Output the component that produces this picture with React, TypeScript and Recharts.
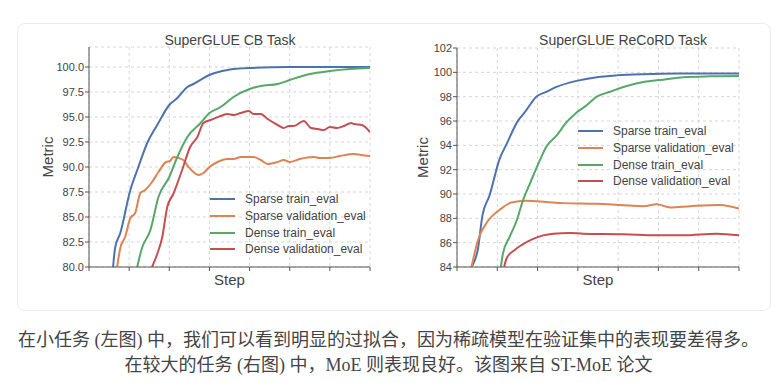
import React from 'react';
import { LineChart, Line, XAxis, YAxis, CartesianGrid, Legend, Label } from 'recharts';

// ---------- data: [step, metric] pairs ----------
const cbSparseTrain = [
  [0.6, 80], [0.65, 81.9], [0.78, 83.4], [1.03, 87.7], [1.23, 90], [1.45, 92.4], [1.7, 94.2],
  [2.0, 96.2], [2.2, 96.9], [2.45, 98], [2.6, 98.3], [3.0, 99.2], [3.45, 99.7], [4.0, 99.9],
  [5.0, 100], [6.0, 100], [7.0, 100],
];
const cbSparseVal = [
  [0.7, 80], [0.78, 81.9], [0.9, 83], [1.03, 84.9], [1.15, 85.4], [1.28, 87.4], [1.4, 87.7],
  [1.57, 88.5], [1.73, 89.5], [1.92, 90.5], [2.02, 90.6], [2.1, 91], [2.35, 90.7], [2.48, 90],
  [2.73, 89.2], [2.85, 89.4], [3.0, 90], [3.2, 90.5], [3.45, 90.8], [3.6, 90.8], [3.78, 91],
  [4.1, 91], [4.28, 90.7], [4.45, 90.3], [4.7, 90.5], [4.85, 90.7], [5.0, 90.5], [5.25, 90.8],
  [5.6, 91], [5.75, 90.9], [6.0, 90.9], [6.25, 91.1], [6.6, 91.3], [6.78, 91.2], [7.0, 91.1],
];
const cbDenseTrain = [
  [1.2, 80], [1.32, 81.9], [1.53, 83.7], [1.73, 87], [2.0, 89], [2.2, 91], [2.45, 93],
  [2.78, 94.4], [3.0, 95.4], [3.28, 96], [3.6, 97], [4.0, 97.8], [4.28, 98.1], [4.7, 98.3],
  [5.0, 98.7], [5.5, 99.3], [6.0, 99.6], [6.5, 99.8], [7.0, 99.9],
];
const cbDenseVal = [
  [1.57, 80], [1.7, 81.3], [1.82, 82.9], [1.95, 86], [2.1, 87.3], [2.32, 89.7], [2.52, 92],
  [2.7, 93], [2.85, 94.4], [3.03, 94.7], [3.28, 95.1], [3.45, 95.3], [3.6, 95.2], [3.78, 95.4],
  [3.98, 95.6], [4.1, 95.3], [4.28, 95.3], [4.45, 94.8], [4.7, 94.2], [4.85, 93.9], [4.98, 94.1],
  [5.1, 94.1], [5.35, 94.6], [5.53, 93.9], [5.7, 93.8], [5.85, 93.7], [6.0, 94.0], [6.18, 93.9],
  [6.35, 94.1], [6.53, 94.4], [6.6, 94.3], [6.8, 94.2], [7.0, 93.5],
];

const rcSparseTrain = [
  [0.36, 84], [0.52, 85.5], [0.63, 88.2], [0.81, 89.9], [1.06, 92.9], [1.23, 94.1], [1.52, 96.05],
  [1.68, 96.7], [1.97, 98], [2.22, 98.4], [2.47, 98.8], [2.97, 99.3], [3.47, 99.6], [3.96, 99.75],
  [4.63, 99.85], [5.5, 99.9], [7.0, 99.9],
];
const rcSparseVal = [
  [0.36, 84], [0.52, 86.2], [0.77, 87.8], [1.06, 88.7], [1.35, 89.3], [1.72, 89.45], [2.22, 89.35],
  [2.64, 89.25], [3.47, 89.2], [4.13, 89.07], [4.63, 89.0], [4.96, 89.15], [5.29, 88.9],
  [5.79, 89.0], [6.53, 89.1], [7.0, 88.8],
];
const rcDenseTrain = [
  [1.09, 84], [1.14, 85.1], [1.31, 86.5], [1.48, 87.8], [1.64, 89.5], [1.81, 90.85], [2.06, 92.8],
  [2.22, 93.9], [2.47, 94.8], [2.72, 95.9], [2.97, 96.7], [3.22, 97.3], [3.47, 98], [3.8, 98.4],
  [4.13, 98.8], [4.63, 99.2], [5.12, 99.4], [5.62, 99.6], [6.29, 99.67], [7.0, 99.7],
];
const rcDenseVal = [
  [1.17, 84], [1.23, 84.7], [1.43, 85.4], [1.6, 85.8], [1.85, 86.25], [2.14, 86.6], [2.39, 86.74],
  [2.8, 86.8], [3.13, 86.74], [4.13, 86.7], [4.96, 86.6], [5.62, 86.6], [6.45, 86.74], [7.0, 86.6],
];

const seriesNames = ['Sparse train_eval', 'Sparse validation_eval', 'Dense train_eval', 'Dense validation_eval'];
const seriesColors = ['#4C72B0', '#DD8452', '#55A868', '#C44E52'];
const stepTicks = [0, 1, 2, 3, 4, 5, 6, 7];
const cbTicks = [80, 82.5, 85, 87.5, 90, 92.5, 95, 97.5, 100];
const rcTicks = [84, 86, 88, 90, 92, 94, 96, 98, 100, 102];
const cbTitle = 'SuperGLUE CB Task';
const rcTitle = 'SuperGLUE ReCoRD Task';
const caption1 = '在小任务 (左图) 中，我们可以看到明显的过拟合，因为稀疏模型在验证集中的表现要差得多。';
const caption2 = '在较大的任务 (右图) 中，MoE 则表现良好。该图来自 ST-MoE 论文';

const toPts = (arr: number[][]) => arr.map(([x, y]) => ({ x, y }));

const FONT = "'Liberation Sans', Arial, Helvetica, sans-serif";
const AXIS = '#555';

const LegendBox = (props: any) => {
  const payload = [...(props.payload || [])].sort(
    (a: any, b: any) => seriesNames.indexOf(a.value) - seriesNames.indexOf(b.value)
  );
  return (
    <div style={{ fontFamily: FONT, fontSize: 12, color: '#444' }}>
      {payload.map((p: any, i: number) => (
        <div key={i} style={{ display: 'flex', alignItems: 'center', height: 16.7, whiteSpace: 'nowrap' }}>
          <svg width={25} height={4} style={{ marginRight: 10 }}>
            <line x1={0} y1={2} x2={25} y2={2} stroke={p.color} strokeWidth={2} />
          </svg>
          <span>{p.value}</span>
        </div>
      ))}
    </div>
  );
};

type PanelProps = {
  series: number[][][];
  yDomain: [number, number];
  yTicks: number[];
  yFmt: (v: number) => string;
  width: number;
  marginLeft: number;
  yAxisWidth: number;
  yLabelOffset: number;
  legendLeft: number;
  legendTop: number;
  top: number;
};

const Panel = (p: PanelProps) => (
  <LineChart
    width={p.width}
    height={300}
    margin={{ top: p.top, right: 10, bottom: 10, left: p.marginLeft }}
    style={{ fontFamily: FONT }}
  >
    <CartesianGrid stroke="#d5d5d5" strokeDasharray="3 3" />
    <XAxis
      type="number"
      dataKey="x"
      domain={[0, 7]}
      ticks={stepTicks}
      tickFormatter={() => ''}
      height={23}
      tickSize={4}
      stroke={AXIS}
      allowDataOverflow
    >
      <Label value="Step" position="insideBottom" offset={5} fill="#444" fontSize={15} />
    </XAxis>
    <YAxis
      type="number"
      domain={p.yDomain}
      ticks={p.yTicks}
      tickFormatter={p.yFmt}
      width={p.yAxisWidth}
      tickSize={4}
      tickMargin={1}
      stroke={AXIS}
      tick={{ fill: '#444', fontSize: 11 }}
      allowDataOverflow
    >
      <Label
        value="Metric"
        angle={-90}
        position="insideLeft"
        offset={p.yLabelOffset}
        fill="#444"
        fontSize={15}
        style={{ textAnchor: 'middle' }}
      />
    </YAxis>
    <Legend
      layout="vertical"
      align="center"
      verticalAlign="middle"
      content={LegendBox}
      wrapperStyle={{ left: p.legendLeft, top: p.legendTop, width: 170 }}
    />
    {p.series.map((s, i) => (
      <Line
        key={seriesNames[i]}
        name={seriesNames[i]}
        data={toPts(s)}
        dataKey="y"
        type="monotone"
        stroke={seriesColors[i]}
        strokeWidth={2}
        dot={false}
        activeDot={false}
        isAnimationActive={false}
      />
    ))}
  </LineChart>
);

const titleStyle: React.CSSProperties = {
  position: 'absolute',
  fontFamily: FONT,
  fontSize: 14,
  color: '#444',
  textAlign: 'center',
  whiteSpace: 'nowrap',
  lineHeight: '16px',
};

export default function App() {
  return (
    <div style={{ position: 'absolute', left: 0, top: 0, width: 777, height: 383, background: '#fff' }}>
      <div
        style={{
          position: 'absolute',
          left: 17,
          top: 23,
          width: 752,
          height: 286,
          border: '1px solid #ececec',
          borderRadius: 8,
        }}
      />
      <div style={{ position: 'absolute', left: 0, top: 0 }}>
        <Panel
          series={[cbSparseTrain, cbSparseVal, cbDenseTrain, cbDenseVal]}
          yDomain={[80, 102]}
          yTicks={cbTicks}
          yFmt={(v) => v.toFixed(1)}
          width={380}
          marginLeft={39}
          yAxisWidth={50}
          yLabelOffset={9}
          legendLeft={210}
          legendTop={191}
          top={47}
        />
      </div>
      <div style={{ position: 'absolute', left: 390, top: 0 }}>
        <Panel
          series={[rcSparseTrain, rcSparseVal, rcDenseTrain, rcDenseVal]}
          yDomain={[84, 102]}
          yTicks={rcTicks}
          yFmt={(v) => String(v)}
          width={359}
          marginLeft={27}
          yAxisWidth={40}
          yLabelOffset={6}
          legendLeft={188}
          legendTop={123}
          top={48}
        />
      </div>
      <div style={{ ...titleStyle, left: 130, width: 200, top: 32 }}>{cbTitle}</div>
      <div style={{ ...titleStyle, left: 498, width: 250, top: 32 }}>{rcTitle}</div>
      <div
        style={{
          position: 'absolute',
          left: 0,
          top: 328,
          width: 777,
          textAlign: 'center',
          fontFamily: "'Liberation Serif', 'Noto Sans CJK SC', serif",
          fontSize: 18,
          lineHeight: '25px',
          color: '#444',
          whiteSpace: 'nowrap',
        }}
      >
        <div>{caption1}</div>
        <div>{caption2}</div>
      </div>
    </div>
  );
}
